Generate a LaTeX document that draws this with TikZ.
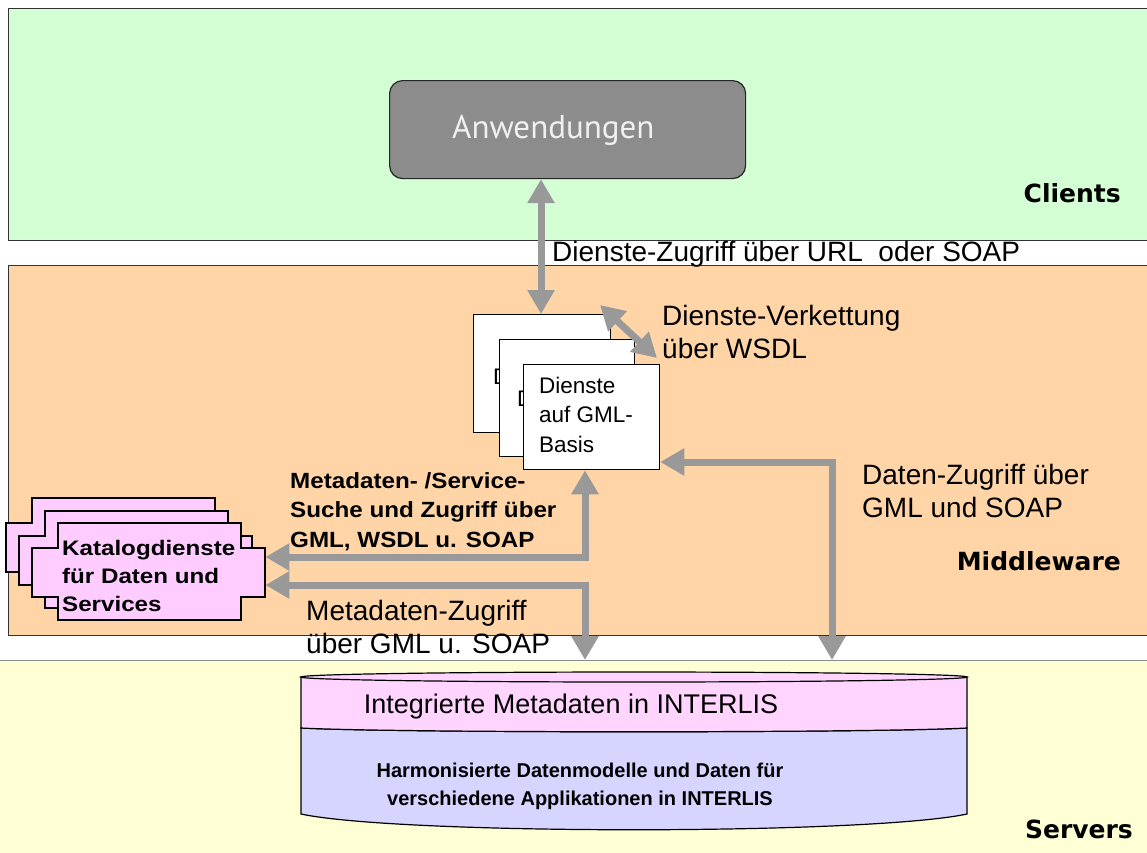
\documentclass[tikz,border=0pt]{standalone}
\usepackage{fontspec}
\setmainfont{Liberation Sans}
\newfontfamily\arialw[FakeStretch=1.1]{Liberation Sans}
\newfontfamily\arialk[FakeStretch=1.15]{Liberation Sans}
\newfontfamily\tahomalike{DejaVu Sans}
\newfontfamily\ptsans{PT Sans}
\usetikzlibrary{arrows.meta,calc}

\definecolor{clientgreen}{RGB}{212,254,212}
\definecolor{midorange}{RGB}{255,212,166}
\definecolor{servyellow}{RGB}{255,255,213}
\definecolor{appgray}{RGB}{140,140,140}
\definecolor{flowgray}{RGB}{153,153,153}
\definecolor{katpink}{RGB}{255,204,255}
\definecolor{dbpink}{RGB}{255,213,255}
\definecolor{dbblue}{RGB}{213,213,255}

\tikzset{
  band/.style={draw=black!80, line width=1.4pt, inner sep=0, anchor=north west},
  svcbox/.style={draw=black, line width=1.3pt, fill=white, inner sep=0, anchor=north west},
  katpath/.style={draw=black, line width=1.3pt, fill=katpink},
  flow/.style={draw=flowgray, line width=7pt,
    {Triangle[length=24pt,width=26pt]}-{Triangle[length=24pt,width=26pt]}},
  lbl/.style={inner sep=0, anchor=base west, align=left},
  layer/.style={anchor=base east, inner sep=0,
    font=\tahomalike\bfseries\fontsize{25}{30}\selectfont},
}

% one of the stacked catalogue cards, given its upper left corner
\newcommand\katcard[2]{%
  \draw[katpath] (#1,#2) -- ++(183,0) -- ++(0,25) -- ++(24,0) -- ++(0,49)
    -- ++(-24,0) -- ++(0,23) -- ++(-183,0) -- ++(0,-23) -- ++(-26,0)
    -- ++(0,-49) -- ++(26,0) -- cycle;}

\begin{document}
\begin{tikzpicture}[x=1pt,y=-1pt]
\useasboundingbox (0,0) rectangle (1147,852);
\fill[white] (0,0) rectangle (1147,852);

% layers
\node[band, fill=clientgreen, minimum width=1160, minimum height=232] (cl) at (8,8) {};
\node[band, fill=midorange, minimum width=1160, minimum height=370] (mw) at (8,265) {};
\node[draw=black!45, line width=1pt, fill=servyellow, inner sep=0, anchor=north west,
      minimum width=1170, minimum height=220] (sv) at (-5,660) {};

\node[layer] (clt) at (1121,202) {Clients};
\node[layer] (mwt) at (1121,570) {Middleware};
\node[layer] (svt) at (1133,838) {Servers};

% applications
\node[draw=black!85, line width=1.2pt, fill=appgray, rounded corners=13, inner sep=0,
      anchor=north west, minimum width=356, minimum height=98] (anw) at (389,80) {};
\node[lbl, text=white!94!black, font=\ptsans\fontsize{33}{40}\selectfont] (anwt) at (452,138) {Anwendungen};

% stacked GML services (only the front card shows its full caption)
\node[svcbox, minimum width=137, minimum height=118] (b1) at (473,314) {};
\node[lbl, font=\fontsize{22.5}{29.5}\selectfont] (t1) at (493,384) {Dienste};
\node[svcbox, minimum width=135, minimum height=117] (b2) at (499,339) {};
\node[lbl, font=\fontsize{22.5}{29.5}\selectfont] (t2) at (517,406) {Dienste};
\node[svcbox, minimum width=136, minimum height=105] (b3) at (523,364) {};
\node[lbl, font=\fontsize{22.5}{29.5}\selectfont] (t3) at (539,452) {Dienste\\auf GML-\\Basis};

% catalogue services
\katcard{32}{498}
\katcard{45}{511}
\katcard{58}{523}
\node[inner sep=0, minimum width=233, minimum height=49, anchor=north west] (kat) at (32,548) {};
\node[lbl, font=\arialk\bfseries\fontsize{21}{28}\selectfont] (katt) at (62,611)
  {Katalogdienste\\für Daten und\\Services};

% database cylinder
\draw[fill=dbblue, line width=1.2pt] (301,728) -- (301,814)
  .. controls (400,835) and (868,835) .. (967,814) -- (967,728)
  .. controls (868,733) and (400,733) .. (301,728) -- cycle;
\draw[fill=dbpink, line width=1.2pt] (301,677) -- (301,728)
  .. controls (400,733) and (868,733) .. (967,728) -- (967,677) -- cycle;
\draw[fill=dbpink, line width=1.2pt] (634,677) ellipse [x radius=333pt, y radius=5pt];
\node[inner sep=0, minimum width=666, minimum height=150, anchor=north west] (db) at (301,672) {};
\node[inner sep=0, anchor=base, font=\fontsize{27}{32}\selectfont] (dbt1) at (571,713)
  {Integrierte Metadaten in INTERLIS};
\node[inner sep=0, anchor=base, align=center, font=\bfseries\fontsize{20}{28}\selectfont] (dbt2) at (580,805)
  {Harmonisierte Datenmodelle und Daten für\\verschiedene Applikationen in INTERLIS};

% connector labels
\node[lbl, font=\fontsize{28}{33}\selectfont] (lz) at (552,261) {Dienste-Zugriff über URL\ \ oder SOAP};
\node[lbl, font=\fontsize{28}{33}\selectfont] (lv) at (662,358) {Dienste-Verkettung\\über WSDL};
\node[lbl, font=\fontsize{28}{33}\selectfont] (ld) at (862,517) {Daten-Zugriff über\\GML und SOAP};
\node[lbl, font=\fontsize{28}{33}\selectfont] (lm) at (306,653) {Metadaten-Zugriff\\über GML u. SOAP};
\node[lbl, font=\arialw\bfseries\fontsize{22}{29.5}\selectfont] (ls) at (290,547)
  {Metadaten- /Service-\\Suche und Zugriff über\\GML, WSDL u. SOAP};

% connectors
\coordinate (xa) at (541,0);
\draw[flow] (anw.south -| xa) -- (b1.north -| xa);
\coordinate (v1) at (600,305);
\coordinate (v2) at (657,358);
\draw[flow] (v1) -- (v2);
\coordinate (ja) at (585,557);
\draw[flow] (b3.south -| ja) -- (ja) -- (ja -| kat.east);
\coordinate (jb) at (585,585);
\draw[flow] (jb -| kat.east) -- (jb) -- (jb |- sv.north);
\coordinate (jc) at (832,462);
\draw[flow] (jc -| b3.east) -- (jc) -- (jc |- sv.north);
\end{tikzpicture}
\end{document}
